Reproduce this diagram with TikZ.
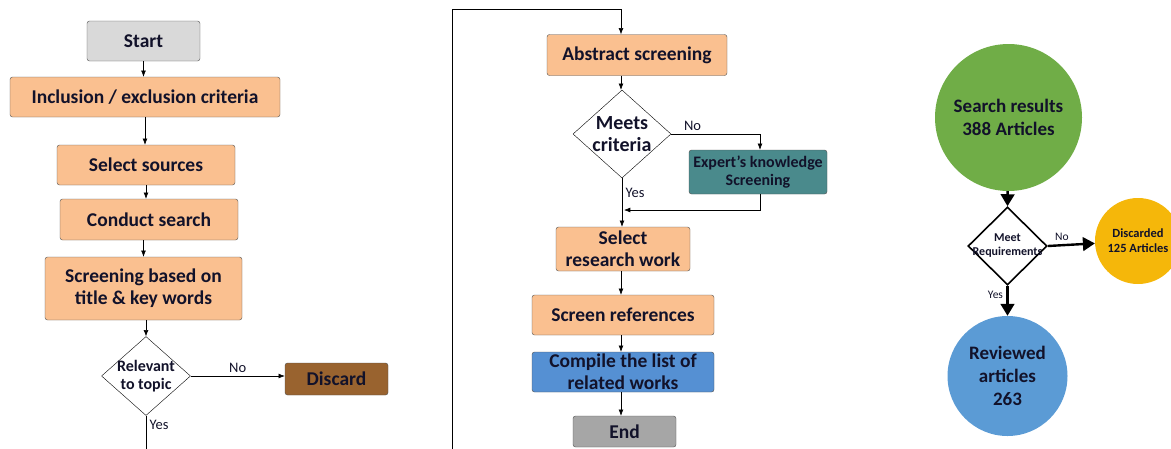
\documentclass[tikz,border=0pt]{standalone}
\usepackage{fontspec}
\setmainfont{Carlito}
\usepackage{tikz}
\usetikzlibrary{arrows.meta,shapes.geometric}
\definecolor{cPeach}{HTML}{FAC090}
\definecolor{cStart}{HTML}{D9D9D9}
\definecolor{cEnd}{HTML}{A6A6A6}
\definecolor{cBrown}{HTML}{99632F}
\definecolor{cTeal}{HTML}{4A8A8C}
\definecolor{cBlue}{HTML}{5590D3}
\definecolor{cGreen}{HTML}{70AD47}
\definecolor{cGold}{HTML}{F5B70A}
\definecolor{cSky}{HTML}{5B9BD5}
\definecolor{cInk}{HTML}{12122A}
\definecolor{cEdge}{HTML}{505050}
\newcommand{\fsz}[2]{\fontsize{#1}{#2}\selectfont}
\tikzset{
  box/.style={draw=cEdge, rounded corners=2.5pt, fill=cPeach, inner sep=0pt, align=center,
              text=cInk, font=\fsz{19.5}{22}\bfseries},
  decision/.style={draw=black, diamond, fill=white, inner sep=0pt},
  ball/.style={circle, inner sep=0pt, align=center, text=cInk, font=\fsz{19}{23}\bfseries},
  arr/.style={-{Latex[length=2.2mm,width=1.7mm]}, draw=black, semithick},
  bigarr/.style={-{Triangle[length=4.2mm,width=4.8mm]}, draw=black, line width=2.4pt},
  tag/.style={text=cInk, font=\fsz{14.5}{16}},
}
\begin{document}
\begin{tikzpicture}[x=1pt,y=-1pt]
  \clip (0,0) rectangle (1171,448);
  % left column
  \node[box, fill=cStart, minimum width=113pt, minimum height=40pt] (start) at (143.5,41) {Start};
  \node[box, minimum width=270pt, minimum height=40pt] (incl) at (145,97) {Inclusion / exclusion criteria};
  \node[box, minimum width=178pt, minimum height=40pt] (src) at (146,165) {Select sources};
  \node[box, minimum width=178pt, minimum height=41pt] (srch) at (149,219.5) {Conduct search};
  \node[box, minimum width=197pt, minimum height=63pt] (title) at (143.5,288.5) {Screening based on\\title \& key words};
  \node[decision, minimum width=89pt, minimum height=79pt,
        label={[align=center, text=cInk, font=\fsz{16}{18}\bfseries]center:Relevant\\to topic}] (rel) at (146,376) {};
  \node[box, fill=cBrown, minimum width=103pt, minimum height=32pt] (disc) at (336.5,379) {Discard};
  \draw[arr] (start) -- (start |- incl.north);
  \draw[arr] (incl) -- (incl |- src.north);
  \draw[arr] (src) -- (src |- srch.north);
  \draw[arr] (srch.south -| title.north) -- (title.north);
  \draw[arr] (title.south -| rel.north) -- (rel.north);
  \draw[arr] (rel.east) -- (rel.east -| disc.west) node[tag, midway, above] {No};
  \coordinate (lb) at (452,452);
  \draw (rel.south) -- (rel.south |- lb) node[tag, pos=0.25, right] {Yes};
  % middle column
  \node[box, minimum width=180pt, minimum height=41pt] (abs) at (637,55) {Abstract screening};
  \node[decision, minimum width=98pt, minimum height=88pt,
        label={[align=center, text=cInk, font=\fsz{20}{22}\bfseries]center:Meets\\criteria}] (meet) at (622,134) {};
  \node[box, fill=cTeal, minimum width=138pt, minimum height=44pt, font=\fsz{16}{18}\bfseries] (exp) at (758,172) {Expert’s knowledge\\Screening};
  \node[box, minimum width=134pt, minimum height=44pt] (sel) at (623,249) {Select\\research work};
  \node[box, minimum width=182pt, minimum height=40pt] (scr) at (623,315) {Screen references};
  \node[box, fill=cBlue, minimum width=182pt, minimum height=40pt] (comp) at (623,372) {Compile the list of\\related works};
  \node[box, fill=cEnd, minimum width=103pt, minimum height=31pt] (end) at (624.5,431.5) {End};
  \coordinate (lt) at (621,9);
  \coordinate (join) at (624,210);
  \draw[arr] (lb) |- (lt) -- (lt |- abs.north);
  \draw[arr] (lt |- abs.south) -- (lt |- meet.north);
  \draw[arr] (meet.east) -| (760,0 |- exp.north) node[tag, pos=0.12, above] {No};
  \draw[arr] (760,0 |- exp.south) |- (join);
  \draw[arr] (meet.south) -- (meet.south |- sel.north) node[tag, pos=0.3, right] {Yes};
  \draw[arr] (lt |- sel.south) -- (lt |- scr.north);
  \draw[arr] (lt |- scr.south) -- (lt |- comp.north);
  \draw[arr] (lt |- comp.south) -- (lt |- end.north);
  % right column
  \node[ball, fill=cGreen, minimum size=147pt] (res) at (1008.5,117.5) {Search results\\388 Articles};
  \node[decision, minimum width=79pt, minimum height=78pt, line width=1.6pt,
        label={[align=center, text=cInk, font=\fsz{12}{14}\bfseries]center:Meet\\Requirements}] (req) at (1007.5,246) {};
  \node[ball, fill=cGold, minimum size=86pt, font=\fsz{12.5}{15}\bfseries] (drop) at (1138,241) {Discarded\\125 Articles};
  \node[ball, fill=cSky, minimum size=120pt] (rev) at (1007.5,376) {Reviewed\\articles\\263};
  \draw[bigarr] (res) -- (req.north);
  \draw[bigarr] (req.east) -- (drop) node[tag, font=\fsz{11.5}{13}, pos=0.3, above] {No};
  \draw[bigarr] (req.south) -- (rev) node[tag, font=\fsz{11.5}{13}, pos=0.3, left] {Yes};
\end{tikzpicture}
\end{document}
